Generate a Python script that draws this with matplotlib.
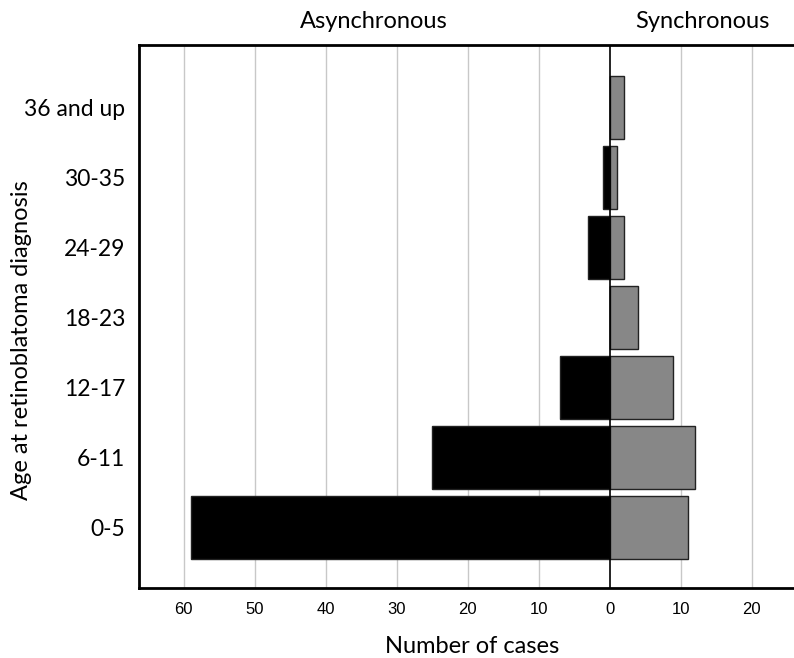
import matplotlib.pyplot as plt
from matplotlib.transforms import blended_transform_factory
import numpy as np

plt.rcParams['font.family'] = ['Lato', 'DejaVu Sans']

ages = ['0-5', '6-11', '12-17', '18-23', '24-29', '30-35', '36 and up']
asynchronous = [59, 25, 7, 0, 3, 1, 0]
synchronous = [11, 12, 9, 4, 2, 1, 2]
xticks = [-60, -50, -40, -30, -20, -10, 0, 10, 20]

fig = plt.figure(figsize=(7.94, 6.58), dpi=100)
ax = fig.add_axes([0.175, 0.1064, 0.827, 0.8252])

y = np.arange(len(ages))
ax.barh(y, [-v for v in asynchronous], height=0.9, color='black',
        edgecolor='#222222', linewidth=1, zorder=3)
ax.barh(y, synchronous, height=0.9, color='#878787',
        edgecolor='#222222', linewidth=1, zorder=3)

ax.axvline(0, color='black', linewidth=1.2, zorder=4)
for t in xticks:
    if t != 0:
        ax.axvline(t, color='#c8c8c8', linewidth=1, zorder=1)

ax.set_xlim(-66.3, 26.2)
ax.set_ylim(-0.87, 6.89)
ax.set_xticks(xticks)
ax.set_xticklabels([str(abs(t)) for t in xticks], fontsize=12,
                   family=['Liberation Sans', 'DejaVu Sans'])
ax.set_yticks(y)
ax.set_yticklabels(ages, fontsize=16.5)
ax.tick_params(length=0, pad=10)
ax.tick_params(axis='y', pad=10)
for s in ax.spines.values():
    s.set_linewidth(2)
    s.set_color('black')

ax.set_xlabel('Number of cases', fontsize=17)
ax.xaxis.set_label_coords(0.507, -0.088)
ax.set_ylabel('Age at retinoblatoma diagnosis', fontsize=17)
ax.yaxis.set_label_coords(-0.163, 0.457)

trans = blended_transform_factory(ax.transData, fig.transFigure)
ax.text(-33.2, 0.968, 'Asynchronous', transform=trans, ha='center', va='center', fontsize=17)
ax.text(13.1, 0.968, 'Synchronous', transform=trans, ha='center', va='center', fontsize=17)

fig.savefig('out.png', dpi=100)
